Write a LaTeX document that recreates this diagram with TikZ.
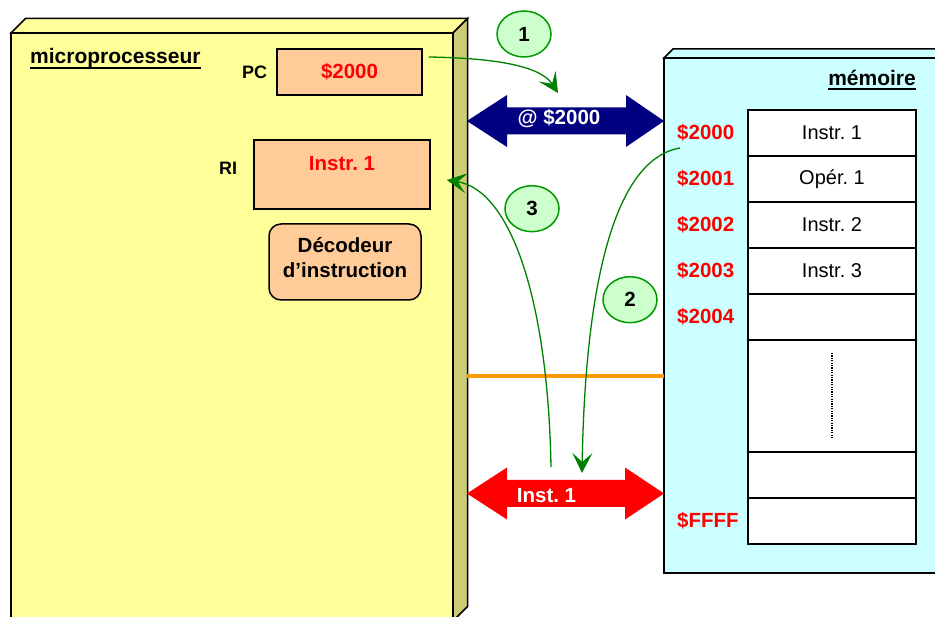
\documentclass[tikz,border=0pt]{standalone}
\usepackage{fontspec}
\setmainfont{Liberation Sans}
\usetikzlibrary{positioning, shapes.geometric, arrows.meta}
\frenchspacing

\definecolor{cpuyellow}{RGB}{255,255,153}
\definecolor{cpuside}{RGB}{204,204,119}
\definecolor{memcyan}{RGB}{204,255,255}
\definecolor{regpeach}{RGB}{255,204,153}
\definecolor{busnavy}{RGB}{0,0,128}
\definecolor{flowgreen}{RGB}{0,128,0}
\definecolor{stepfill}{RGB}{204,255,204}
\definecolor{stepline}{RGB}{0,153,0}
\definecolor{ctrlorange}{RGB}{255,153,0}

\begin{document}
\begin{tikzpicture}[
    x=1pt, y=1pt,
    face/.style={rectangle, draw, line width=1.5pt, inner sep=0pt, outer sep=0pt},
    cpuface/.style={face, fill=cpuyellow},
    memface/.style={face, fill=memcyan},
    reg/.style={rectangle, draw, line width=1.5pt, fill=regpeach, inner sep=0pt},
    regtext/.style={inner sep=0pt, align=center, font=\bfseries\fontsize{20.5}{25}\selectfont},
    regname/.style={inner sep=0pt, font=\bfseries\fontsize{18}{21}\selectfont},
    boxtitle/.style={inner sep=0pt, font=\bfseries\fontsize{21}{25}\selectfont},
    cell/.style={rectangle, draw, line width=1.8pt, minimum width=168pt, minimum height=46pt, inner sep=0pt, outer sep=0pt, font=\fontsize{20}{24}\selectfont},
    addr/.style={inner sep=0pt, text=red, font=\bfseries\fontsize{20.5}{24}\selectfont},
    buslabel/.style={inner sep=0pt, text=white, font=\bfseries\fontsize{20.5}{24}\selectfont},
    stepnum/.style={ellipse, draw=stepline, line width=1.5pt, fill=stepfill, minimum width=54pt, minimum height=46pt, inner sep=0pt, font=\bfseries\fontsize{20.5}{24}\selectfont},
    flow/.style={draw=flowgreen, line width=1.3pt, -{Stealth[length=20pt, width=20pt, inset=9pt]}}
]
\useasboundingbox (0,0) rectangle (935,-617);
\clip (0,0) rectangle (935,-617);

% Microprocessor block
\node[cpuface, minimum width=442pt, minimum height=588pt] (mp) at (232,-327) {};
\filldraw[fill=cpuyellow, line width=1.5pt] (mp.north west) -- ++(14.5,14.5) -- ([shift={(14.5,14.5)}]mp.north east) -- (mp.north east) -- cycle;
\filldraw[fill=cpuside, line width=1.5pt] (mp.north east) -- ++(14.5,14.5) -- ([shift={(14.5,14.5)}]mp.south east) -- (mp.south east) -- cycle;
\node[boxtitle, anchor=base west] (cputitle) at (30,-64) {microprocesseur};
\draw[line width=2pt] ([yshift=-4pt]cputitle.base west) -- ([yshift=-4pt]cputitle.base east);

% Registers and decoder
\node[reg, minimum width=145pt, minimum height=46pt] (pc) at (349.5,-72) {};
\node[regtext, text=red] (pctext) at (pc.center) {\$2000};
\node[regname, left=9pt of pc] (pclabel) {PC};
\node[reg, minimum width=176pt, minimum height=69pt] (ri) at (342,-174.5) {};
\node[regtext, text=red, anchor=base] (ritext) at ([yshift=-31pt]ri.north) {Instr. 1};
\node[regname, left=16pt of ri, yshift=6pt] (rilabel) {RI};
\node[reg, rounded corners=12pt, minimum width=152pt, minimum height=76pt] (dec) at (345,-262) {};
\node[regtext, anchor=base] (dectext) at ([yshift=-16pt]dec.center) {Décodeur\\d’instruction};

% Memory block
\node[memface, minimum width=296pt, minimum height=515pt] (mem) at (812,-315.5) {};
\filldraw[fill=memcyan, line width=1.5pt] (mem.north west) -- ++(9,9) -- ([shift={(9,9)}]mem.north east) -- (mem.north east) -- cycle;
\node[boxtitle, anchor=base east] (memtitle) at (916,-86) {mémoire};
\draw[line width=2pt] ([yshift=-3.5pt]memtitle.base west) -- ([yshift=-3.5pt]memtitle.base east);

% Memory cells
\fill[white] (748,-110) rectangle (916,-544);
\node[cell] (m0) at (832,-133) {Instr. 1};
\node[cell, below=0pt of m0] (m1) {Opér. 1};
\node[cell, below=0pt of m1] (m2) {Instr. 2};
\node[cell, below=0pt of m2] (m3) {Instr. 3};
\node[cell, below=0pt of m3] (m4) {};
\node[cell, below=0pt of m4, minimum height=112pt] (mdots) {};
\node[cell, below=0pt of mdots] (m6) {};
\node[cell, below=0pt of m6] (mF) {};
\draw[line width=1.2pt, dash pattern=on 1.2pt off 1.2pt] ([yshift=-13pt]mdots.north) -- ([yshift=14pt]mdots.south);
\foreach \r/\a in {0/2000, 1/2001, 2/2002, 3/2003, 4/2004, F/FFFF}
    \node[addr, anchor=west] (a\r) at (677,0 |- m\r) {\$\a};

% Buses
\coordinate (abL) at (467,-121);
\coordinate (abR) at (abL -| mem.west);
\fill[busnavy] (abL) -- ++(40,26) -- ++(0,-12.5) -- ([shift={(-38,13.5)}]abR) -- ++(0,12.5) -- (abR) -- ++(-38,-26) -- ++(0,12.5) -- ([shift={(40,-13.5)}]abL) -- ++(0,-12.5) -- cycle;
\node[buslabel, anchor=base] (ablabel) at (559,-125) {@ \$2000};
\coordinate (ctrlL) at (467,-376);
\draw[ctrlorange, line width=4pt] (ctrlL) -- (ctrlL -| mem.west);
\coordinate (dbL) at (467,-493.5);
\coordinate (dbR) at (dbL -| mem.west);
\fill[red] (dbL) -- ++(40,26) -- ++(0,-12.5) -- ([shift={(-39,13.5)}]dbR) -- ++(0,12.5) -- (dbR) -- ++(-39,-26) -- ++(0,12.5) -- ([shift={(40,-13.5)}]dbL) -- ++(0,-12.5) -- cycle;
\node[buslabel, anchor=base] (dblabel) at (546.5,-503) {Inst. 1};

% Steps
\node[stepnum] (s1) at (524,-34) {1};
\node[stepnum] (s2) at (630,-299.7) {2};
\node[stepnum] (s3) at (532,-208.7) {3};
\coordinate (tip1) at (558,-93);
\coordinate (src2) at (680,-148);
\coordinate (tip2) at (582,-473);
\coordinate (src3) at (551,-467);
\draw[flow] ([xshift=6pt, yshift=15pt]pc.east) .. controls +(62,-1) and +(-18,28) .. (tip1);
\draw[flow] (src2) .. controls +(-70,-12) and +(3,173) .. (tip2);
\draw[flow] (src3) .. controls +(-3,167) and +(64,-10) .. ([xshift=16pt, yshift=-5.5pt]ri.east);

\end{tikzpicture}
\end{document}
